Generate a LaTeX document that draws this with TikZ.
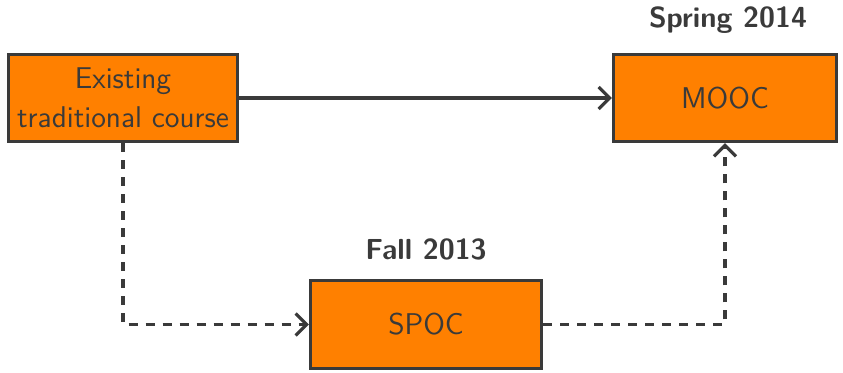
\documentclass[tikz,border=0pt]{standalone}
\usetikzlibrary{arrows.meta}
\definecolor{boxfill}{RGB}{255,128,0}
\definecolor{ink}{RGB}{58,58,58}
\begin{document}
\begin{tikzpicture}[x=0.5pt,y=-0.5pt,
  every node/.style={font=\sffamily, text=ink},
  course/.style={draw=ink, fill=boxfill, line width=1.6pt, inner sep=0pt,
    minimum height=43.5pt, align=center, font=\sffamily\fontsize{15}{19.5}\selectfont},
  term/.style={font=\sffamily\bfseries\fontsize{14.5}{17}\selectfont},
  link/.style={draw=ink, line width=1.6pt, -{Straight Barb[length=5.5pt,width=11pt,line width=1.6pt]}},
  planned/.style={link, dash pattern=on 4.5pt off 4pt}]
  \useasboundingbox (0,0) rectangle (843,372);
  \node[course, minimum width=114.5pt] (trad) at (123,98) {Existing\\traditional course};
  \node[course, minimum width=111.5pt] (mooc) at (725,98) {MOOC};
  \node[course, minimum width=115.5pt, minimum height=44pt] (spoc) at (426,324.5) {SPOC};
  \node[term] (spring) at (728,20) {Spring 2014};
  \node[term] (fall) at (426,249) {Fall 2013};
  \draw[link] (trad) -- (mooc);
  \draw[planned] (trad.south) |- (spoc.west);
  \draw[planned] (spoc.east) -| (mooc.south);
\end{tikzpicture}
\end{document}
